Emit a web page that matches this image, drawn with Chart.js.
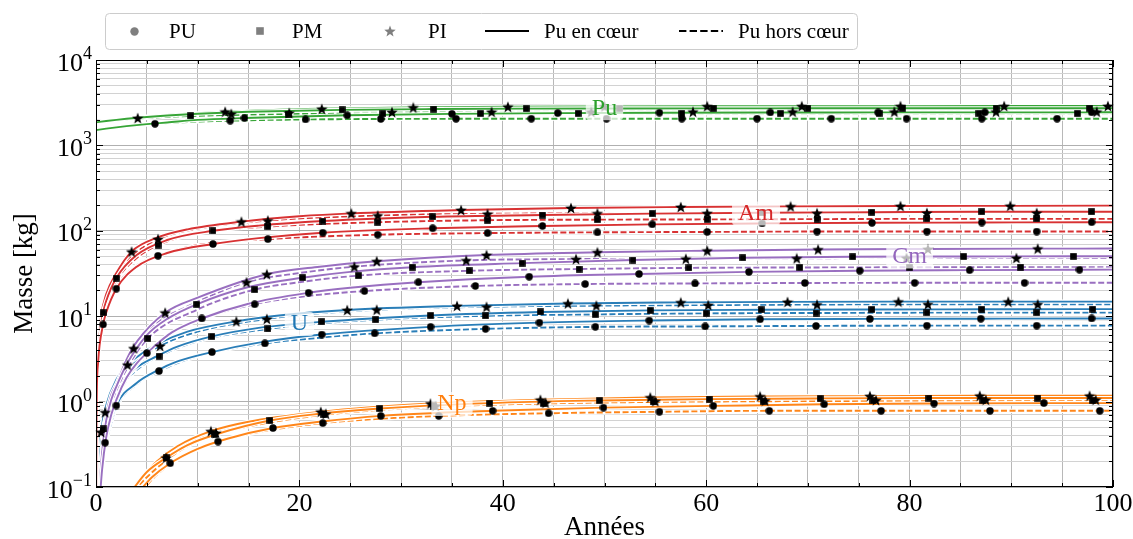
<!DOCTYPE html>
<html><head><meta charset="utf-8">
<script src="https://cdn.jsdelivr.net/npm/chart.js@4.4.1/dist/chart.umd.min.js"></script>
<style>html,body{margin:0;padding:0;background:#fff;overflow:hidden}canvas{display:block}</style>
</head><body>
<canvas id="c" width="1133" height="539"></canvas>
<script>
// ---------------- DATA (years / mass in kg) ----------------
const ELEMENT_NAMES = ['Pu','Am','Cm','U','Np'];
const LEGEND_LABELS = ['PU','PM','PI','Pu en cœur','Pu hors cœur'];
const X_TICK_LABELS = [0,20,40,60,80,100];
const Y_DECADES = [-1,0,1,2,3,4];
const LABEL_TEXT = ['Pu','Am','Cm','U','Np'];
const LABEL_YEAR = [50,64.9,80,20,35];
const LABEL_MASS = [2800,164,51.4,8.3,0.96];

// Pu
const PU_PU_CORE_X = [0,1,2,3,5,7,10,14.6,24.7,35,45.4,55.4,66.3,76.9,87.4,97.9,100];
const PU_PU_CORE_Y = [1510,1570,1627,1680,1774,1855,1988,2090,2250,2340,2390,2415,2428,2434,2437,2439,2440];
const PU_PU_CORE_MK = [14.6,24.7,35,45.4,55.4,66.3,76.9,87.4,97.9];
const PU_PU_OUT_X = [0,1,2,3,5.8,9,13.2,20.6,28,35.4,42.8,50.2,57.6,65,72.3,79.7,87.1,94.5,100];
const PU_PU_OUT_Y = [1510,1574,1630,1680,1791,1878,1950,2014,2039,2048,2052,2054,2055,2055,2055,2055,2055,2055,2055];
const PU_PU_OUT_MK = [5.8,13.2,20.6,28,35.4,42.8,50.2,57.6,65,72.3,79.7,87.1,94.5];
const PU_PM_CORE_X = [0,1,2,3,5,7,10,15,24.2,33.2,42.3,51.5,60.7,70,79.3,88.5,97.7,100];
const PU_PM_CORE_Y = [1860,1929,1992,2050,2153,2240,2346,2473,2606,2666,2695,2708,2715,2718,2719,2720,2720,2720];
const PU_PM_CORE_MK = [24.2,33.2,42.3,51.5,60.7,70,79.3,88.5,97.7];
const PU_PM_OUT_X = [0,1,2,3,5,9.3,18.9,28.2,37.8,47.4,57.6,67.3,77,86.8,96.5,100];
const PU_PM_OUT_Y = [1860,1920,1973,2020,2097,2210,2322,2355,2365,2368,2369,2370,2370,2370,2370,2370];
const PU_PM_OUT_MK = [9.3,18.9,28.2,37.8,47.4,57.6,67.3,77,86.8,96.5];
const PU_PI_CORE_X = [0,1,2,3,5,7,12.7,22.2,31.2,40.5,50,60.1,69.4,79.1,89.3,99.5,100];
const PU_PI_CORE_Y = [1870,1940,2006,2067,2176,2271,2478,2681,2780,2834,2861,2876,2883,2886,2888,2889,2890];
const PU_PI_CORE_MK = [12.7,22.2,31.2,40.5,50,60.1,69.4,79.1,89.3,99.5];
const PU_PI_OUT_X = [0,1,2,3,4.1,8,13.3,19,29.1,38.9,48.7,58.7,68.5,78.5,88.5,98.4,100];
const PU_PI_OUT_Y = [1870,1934,1991,2043,2093,2229,2341,2406,2456,2472,2477,2479,2480,2480,2480,2480,2480];
const PU_PI_OUT_MK = [4.1,13.3,19,29.1,38.9,48.7,58.7,68.5,78.5,88.5,98.4];

// Am
const AM_PU_CORE_X = [0.01,0.05,0.2,0.7,1,2,4,7,11.5,16,22.3,33.1,43.9,54.7,65.5,76.3,87.1,97.9,100];
const AM_PU_CORE_Y = [0.06,0.7,2.8,8,11,21,38,55,70,82,95,107,114,119,122,124,125,126,126];
const AM_PU_CORE_MK = [0.7,2,11.5,22.3,33.1,43.9,54.7,65.5,76.3,87.1,97.9];
const AM_PU_OUT_X = [0.01,0.05,0.2,0.5,1,2,4,6.1,10,16.9,27.7,38.5,49.3,60.1,70.9,81.7,92.5,100];
const AM_PU_OUT_Y = [0.06,0.7,2.8,6.5,11.5,22,39,51,68,80,90,94,96,97,98,98,98,98];
const AM_PU_OUT_MK = [6.1,16.9,27.7,38.5,49.3,60.1,70.9,81.7,92.5];
const AM_PM_CORE_X = [0.01,0.05,0.2,0.7,1,2,4,7,11.5,16,22.3,33.1,43.9,54.7,65.5,76.3,87.1,97.9,100];
const AM_PM_CORE_Y = [0.07,0.9,3.7,11,15,28,52,78,100,115,130,146,153,159,163,165,167,167,167];
const AM_PM_CORE_MK = [0.7,2,11.5,22.3,33.1,43.9,54.7,65.5,76.3,87.1,97.9];
const AM_PM_OUT_X = [0.01,0.05,0.2,0.5,1,2,4,6.1,10,16.9,27.7,38.5,49.3,60.1,70.9,81.7,92.5,100];
const AM_PM_OUT_Y = [0.07,0.85,3.5,8,14,26,48,68,94,112,126,133,135,136,137,138,138,138];
const AM_PM_OUT_MK = [6.1,16.9,27.7,38.5,49.3,60.1,70.9,81.7,92.5];
const AM_PI_CORE_X = [0.01,0.05,0.2,0.5,1,2,3.5,6,9,14.3,20,25.1,35.9,46.7,57.5,68.3,79.1,89.9,100];
const AM_PI_CORE_Y = [0.08,1.1,4.3,10,18,32,57,83,104,128,148,160,175,185,190,193,195,196,197];
const AM_PI_CORE_MK = [3.5,14.3,25.1,35.9,46.7,57.5,68.3,79.1,89.9];
const AM_PI_OUT_X = [0.01,0.05,0.2,0.5,1,2,4,6.1,10,16.9,27.7,38.5,49.3,60.1,70.9,81.7,92.5,100];
const AM_PI_OUT_Y = [0.08,1.0,4,9.5,17,30,56,80,106,132,151,158,160,161,161,162,162,162];
const AM_PI_OUT_MK = [6.1,16.9,27.7,38.5,49.3,60.1,70.9,81.7,92.5];

// Cm
const CM_PU_CORE_X = [0.4,0.6,1,1.5,2,3,4,5.8,7.5,10.4,15,20.9,25,31.7,42.6,53.4,64.2,75.1,85.9,96.7,100];
const CM_PU_CORE_Y = [0.08,0.16,0.38,0.7,1.05,1.9,2.8,4.5,6.5,9.4,14,18.8,21.5,25,29,31.2,33,34.1,34.6,35,35.1];
const CM_PU_CORE_MK = [10.4,20.9,31.7,42.6,53.4,64.2,75.1,85.9,96.7];
const CM_PU_OUT_X = [0.4,0.6,1,1.5,2,3,5,7,10,15.6,20,26.4,37.3,48.1,58.9,69.7,80.5,91.3,100];
const CM_PU_OUT_Y = [0.08,0.15,0.36,0.66,1,1.8,3.7,5.9,9,13.8,16.8,19.7,22.6,23.8,24.2,24.5,24.6,24.6,24.6];
const CM_PU_OUT_MK = [5,15.6,26.4,37.3,48.1,58.9,69.7,80.5,91.3];
const CM_PM_CORE_X = [0.3,0.5,0.7,1,1.5,2,3,5,7,9.9,15,20.3,25,31.1,41.9,52.8,63.6,74.4,85.3,96.1,100];
const CM_PM_CORE_Y = [0.075,0.18,0.33,0.6,1.05,1.5,2.7,6,9.3,13.8,22,28.2,33,37.5,41.8,45.5,48.3,49.6,50,50.3,50.4];
const CM_PM_CORE_MK = [9.9,20.3,31.1,41.9,52.8,63.6,74.4,85.3,96.1];
const CM_PM_OUT_X = [0.3,0.5,0.7,1,1.5,2,3,5.1,10,15.6,20,25.8,36.7,47.5,58.3,69.2,80,90.9,100];
const CM_PM_OUT_Y = [0.07,0.16,0.3,0.55,0.95,1.35,2.4,5.5,12,20.5,25,29.9,34,35.7,36.8,37.2,37.4,37.5,37.5];
const CM_PM_OUT_MK = [5.1,15.6,25.8,36.7,47.5,58.3,69.2,80,90.9];
const CM_PI_CORE_X = [0.3,0.5,0.7,1,1.5,2,3,4,6.8,10,16.8,22,27.6,38.4,49.3,60.1,71,81.8,92.6,100];
const CM_PI_CORE_Y = [0.08,0.2,0.38,0.7,1.2,1.6,3.1,5,11,16.5,31,38,44,52,56,58.5,60.5,61.3,61.8,62];
const CM_PI_CORE_MK = [6.8,16.8,27.6,38.4,49.3,60.1,71,81.8,92.6];
const CM_PI_OUT_X = [0.3,0.5,0.7,1,1.5,2,3.7,6,9,14.8,20,25.4,36.4,47.2,58,68.9,79.7,90.5,100];
const CM_PI_OUT_Y = [0.075,0.19,0.35,0.65,1.1,1.5,4.2,8.3,13,25,32,38,45,46.6,47,47.6,48,48,48];
const CM_PI_OUT_MK = [3.7,14.8,25.4,36.4,47.2,58,68.9,79.7,90.5];

// U
const U_PU_CORE_X = [0.25,0.5,0.9,2,4,6,8,11.4,16,22.2,32.9,43.6,54.4,65.3,76.1,87,97.9,100];
const U_PU_CORE_Y = [0.08,0.17,0.33,0.9,1.65,2.3,2.95,3.8,4.9,6.1,7.5,8.4,8.9,9.2,9.3,9.35,9.4,9.4];
const U_PU_CORE_MK = [0.9,2,11.4,22.2,32.9,43.6,54.4,65.3,76.1,87,97.9];
const U_PU_OUT_X = [0.25,0.5,1,2,4,6.2,10,16.6,22,27.4,38.3,49.1,59.9,70.8,81.7,92.5,100];
const U_PU_OUT_Y = [0.08,0.16,0.33,0.85,1.6,2.28,3.4,4.8,5.6,6.3,7.1,7.5,7.6,7.7,7.75,7.75,7.75];
const U_PU_OUT_MK = [6.2,16.6,27.4,38.3,49.1,59.9,70.8,81.7,92.5];
const U_PM_CORE_X = [0.12,0.3,0.7,1,2,4,6,8,11.4,16,22.2,32.9,43.7,54.5,65.4,76.3,87.1,98,100];
const U_PM_CORE_Y = [0.06,0.17,0.48,0.7,1.35,2.5,3.4,4.4,5.8,7.3,8.6,10.2,11.2,11.7,11.9,12,12.05,12.1,12.1];
const U_PM_CORE_MK = [0.7,11.4,22.2,32.9,43.7,54.5,65.4,76.3,87.1,98];
const U_PM_OUT_X = [0.12,0.3,0.5,1,2,4,6.2,10,16.9,22,27.5,38.3,49.1,60,70.8,81.7,92.5,100];
const U_PM_OUT_Y = [0.06,0.16,0.3,0.66,1.25,2.35,3.4,5.1,7.1,8.2,9.1,10.1,10.5,10.8,10.9,11,11,11];
const U_PM_OUT_MK = [6.2,16.9,27.5,38.3,49.1,60,70.8,81.7,92.5];
const U_PI_CORE_X = [0.12,0.3,0.5,1,2,3.1,4,6,9,13.8,18,24.7,35.5,46.4,57.5,68,78.9,89.7,100];
const U_PI_CORE_Y = [0.08,0.22,0.44,0.9,1.8,2.7,3.3,4.7,6.6,8.7,10.2,11.8,13.2,14.1,14.5,14.7,14.8,14.8,14.8];
const U_PI_CORE_MK = [0.5,3.1,13.8,24.7,35.5,46.4,57.5,68,78.9,89.7];
const U_PI_OUT_X = [0.12,0.3,0.5,0.9,2,4,6.3,10,16.8,22,27.6,38.4,49.2,60.2,70.9,81.8,92.6,100];
const U_PI_OUT_Y = [0.07,0.2,0.4,0.75,1.65,3.0,4.5,6.6,9.3,10.8,11.9,12.9,13.3,13.5,13.7,13.8,13.8,13.8];
const U_PI_OUT_MK = [0.9,6.3,16.8,27.6,38.4,49.2,60.2,70.9,81.8,92.6];

// Np
const NP_PU_CORE_X = [4.3,5.5,7.3,10,13,17.4,22,28,39,49.9,60.7,71.6,82.4,93.2,100];
const NP_PU_CORE_Y = [0.09,0.13,0.19,0.28,0.37,0.49,0.58,0.68,0.78,0.85,0.89,0.93,0.95,0.96,0.96];
const NP_PU_CORE_MK = [7.3,17.4,28,39,49.9,60.7,71.6,82.4,93.2];
const NP_PU_OUT_X = [4.5,6,8,12,16,22.3,28,33.7,44.5,55.4,66.2,77.2,87.9,98.7,100];
const NP_PU_OUT_Y = [0.09,0.14,0.21,0.34,0.44,0.56,0.63,0.68,0.73,0.76,0.78,0.78,0.78,0.78,0.78];
const NP_PU_OUT_MK = [12,22.3,33.7,44.5,55.4,66.2,77.2,87.9,98.7];
const NP_PM_CORE_X = [3.5,5,6.9,9,12,17.1,22,27.9,38.7,49.5,60.3,71.2,81.9,92.6,100];
const NP_PM_CORE_Y = [0.09,0.15,0.22,0.31,0.42,0.6,0.72,0.83,0.96,1.03,1.07,1.09,1.1,1.1,1.1];
const NP_PM_CORE_MK = [6.9,17.1,27.9,38.7,49.5,60.3,71.2,81.9,92.6];
const NP_PM_OUT_X = [3.7,5,7,9,11.7,16,22.4,28,33.2,44,54.8,65.6,76.4,87.2,98,100];
const NP_PM_OUT_Y = [0.09,0.13,0.21,0.3,0.41,0.54,0.7,0.8,0.87,0.95,0.99,1.01,1.02,1.03,1.03,1.03];
const NP_PM_OUT_MK = [11.7,22.4,33.2,44,54.8,65.6,76.4,87.2,98];
const NP_PI_CORE_X = [3.4,4.5,6,8,11.3,15,22.1,27,32.9,43.7,54.5,65.3,76.1,86.9,97.7,100];
const NP_PI_CORE_Y = [0.09,0.13,0.2,0.3,0.45,0.58,0.76,0.86,0.95,1.05,1.12,1.15,1.16,1.17,1.17,1.17];
const NP_PI_CORE_MK = [11.3,22.1,32.9,43.7,54.5,65.3,76.1,86.9,97.7];
const NP_PI_OUT_X = [3.6,5,6.9,9,11.8,16,22.6,28,33.4,44.2,55,65.8,76.7,87.5,98.3,100];
const NP_PI_OUT_Y = [0.09,0.14,0.22,0.32,0.43,0.56,0.72,0.82,0.89,0.97,1.01,1.03,1.04,1.05,1.05,1.05];
const NP_PI_OUT_MK = [6.9,11.8,22.6,33.4,44.2,55,65.8,76.7,87.5,98.3];

// ---------------- TABLE for the library ----------------
const LINES = [
  ['Pu','PU',true,PU_PU_CORE_X,PU_PU_CORE_Y,PU_PU_CORE_MK],['Pu','PU',false,PU_PU_OUT_X,PU_PU_OUT_Y,PU_PU_OUT_MK],
  ['Pu','PM',true,PU_PM_CORE_X,PU_PM_CORE_Y,PU_PM_CORE_MK],['Pu','PM',false,PU_PM_OUT_X,PU_PM_OUT_Y,PU_PM_OUT_MK],
  ['Pu','PI',true,PU_PI_CORE_X,PU_PI_CORE_Y,PU_PI_CORE_MK],['Pu','PI',false,PU_PI_OUT_X,PU_PI_OUT_Y,PU_PI_OUT_MK],
  ['Am','PU',true,AM_PU_CORE_X,AM_PU_CORE_Y,AM_PU_CORE_MK],['Am','PU',false,AM_PU_OUT_X,AM_PU_OUT_Y,AM_PU_OUT_MK],
  ['Am','PM',true,AM_PM_CORE_X,AM_PM_CORE_Y,AM_PM_CORE_MK],['Am','PM',false,AM_PM_OUT_X,AM_PM_OUT_Y,AM_PM_OUT_MK],
  ['Am','PI',true,AM_PI_CORE_X,AM_PI_CORE_Y,AM_PI_CORE_MK],['Am','PI',false,AM_PI_OUT_X,AM_PI_OUT_Y,AM_PI_OUT_MK],
  ['Cm','PU',true,CM_PU_CORE_X,CM_PU_CORE_Y,CM_PU_CORE_MK],['Cm','PU',false,CM_PU_OUT_X,CM_PU_OUT_Y,CM_PU_OUT_MK],
  ['Cm','PM',true,CM_PM_CORE_X,CM_PM_CORE_Y,CM_PM_CORE_MK],['Cm','PM',false,CM_PM_OUT_X,CM_PM_OUT_Y,CM_PM_OUT_MK],
  ['Cm','PI',true,CM_PI_CORE_X,CM_PI_CORE_Y,CM_PI_CORE_MK],['Cm','PI',false,CM_PI_OUT_X,CM_PI_OUT_Y,CM_PI_OUT_MK],
  ['U','PU',true,U_PU_CORE_X,U_PU_CORE_Y,U_PU_CORE_MK],['U','PU',false,U_PU_OUT_X,U_PU_OUT_Y,U_PU_OUT_MK],
  ['U','PM',true,U_PM_CORE_X,U_PM_CORE_Y,U_PM_CORE_MK],['U','PM',false,U_PM_OUT_X,U_PM_OUT_Y,U_PM_OUT_MK],
  ['U','PI',true,U_PI_CORE_X,U_PI_CORE_Y,U_PI_CORE_MK],['U','PI',false,U_PI_OUT_X,U_PI_OUT_Y,U_PI_OUT_MK],
  ['Np','PU',true,NP_PU_CORE_X,NP_PU_CORE_Y,NP_PU_CORE_MK],['Np','PU',false,NP_PU_OUT_X,NP_PU_OUT_Y,NP_PU_OUT_MK],
  ['Np','PM',true,NP_PM_CORE_X,NP_PM_CORE_Y,NP_PM_CORE_MK],['Np','PM',false,NP_PM_OUT_X,NP_PM_OUT_Y,NP_PM_OUT_MK],
  ['Np','PI',true,NP_PI_CORE_X,NP_PI_CORE_Y,NP_PI_CORE_MK],['Np','PI',false,NP_PI_OUT_X,NP_PI_OUT_Y,NP_PI_OUT_MK]
];

// ---------------- STYLE ----------------
const ELEMENT_COLORS = {Pu:'#2ca02c', Am:'#d62728', Cm:'#9467bd', U:'#1f77b4', Np:'#ff7f0e'};
const SCEN_SHAPE = {PU:'circle', PM:'square', PI:'star'};
const SERIF = "'Liberation Serif','DejaVu Serif',serif";

function rgba(hex, a){
  const n = parseInt(hex.slice(1),16);
  return `rgba(${(n>>16)&255},${(n>>8)&255},${n&255},${a})`;
}
function makeMarker(shape, size, color){
  const c = document.createElement('canvas');
  c.width = size; c.height = size;
  const g = c.getContext('2d');
  g.fillStyle = color;
  const m = size/2;
  if (shape === 'circle'){ g.beginPath(); g.arc(m,m,m-0.3,0,2*Math.PI); g.fill(); }
  else if (shape === 'square'){ g.fillRect(0.2,0.2,size-0.4,size-0.4); }
  else {
    const R = m, r = R*0.42;
    g.beginPath();
    for (let k=0;k<10;k++){
      const rr = k%2===0 ? R : r;
      const a = -Math.PI/2 + k*Math.PI/5;
      const px = m + rr*Math.cos(a), py = m + R*0.1 + rr*Math.sin(a);
      if (k===0) g.moveTo(px,py); else g.lineTo(px,py);
    }
    g.closePath(); g.fill();
  }
  return c;
}
const MARKERS = {circle: makeMarker('circle',8,'#000'), square: makeMarker('square',7,'#000'), star: makeMarker('star',12,'#000')};
const LEG_MARKERS = {circle: makeMarker('circle',9,'#7f7f7f'), square: makeMarker('square',8,'#7f7f7f'), star: makeMarker('star',12,'#7f7f7f')};

// ticks / grid positions
const X_GRID = [0,5,10,15,20,25,30,35,40,45,50,55,60,65,70,75,80,85,90,95,100];
const Y_GRID = [];
for (const e of Y_DECADES){
  if (e === 4){ Y_GRID.push(1e4); break; }
  for (let s=1;s<=9;s++) Y_GRID.push(+(s*Math.pow(10,e)).toPrecision(6));
}
function isDecade(v){ const l = Math.log10(v); return Math.abs(l - Math.round(l)) < 1e-6; }

// ---------------- DATASETS ----------------
const markerSets = [], lineSets = [];
LINES.forEach(L => {
  const [el, sc, core, X, Y, MK] = L;
  const data = X.map((x,i) => ({x:x, y:Y[i]}));
  const color = ELEMENT_COLORS[el];
  markerSets.push({
    data, showLine:false, pointStyle: MARKERS[SCEN_SHAPE[sc]],
    pointRadius: c => (c.raw && MK.includes(c.raw.x)) ? 3 : 0,
    pointHoverRadius: 0, clip:false
  });
  lineSets.push({
    data, borderColor: rgba(color,0.95), borderWidth:1.9, borderDash: core ? [] : [6,2.6],
    pointRadius:0, pointHoverRadius:0, cubicInterpolationMode:'monotone', clip:0, fill:false
  });
  lineSets.push({
    data, borderColor:'#ffffff', borderWidth:4.2,
    pointRadius:0, pointHoverRadius:0, cubicInterpolationMode:'monotone', clip:0, fill:false
  });
});

// ---------------- DECORATION PLUGIN ----------------
function roundRect(ctx,x,y,w,h,r){
  ctx.beginPath();
  ctx.moveTo(x+r,y); ctx.lineTo(x+w-r,y); ctx.quadraticCurveTo(x+w,y,x+w,y+r);
  ctx.lineTo(x+w,y+h-r); ctx.quadraticCurveTo(x+w,y+h,x+w-r,y+h);
  ctx.lineTo(x+r,y+h); ctx.quadraticCurveTo(x,y+h,x,y+h-r);
  ctx.lineTo(x,y+r); ctx.quadraticCurveTo(x,y,x+r,y); ctx.closePath();
}
const deco = {
  id:'deco',
  afterDatasetsDraw(chart){
    const ctx = chart.ctx, xs = chart.scales.x, ys = chart.scales.y;
    ctx.save();
    ctx.font = `24px ${SERIF}`;
    ctx.textAlign = 'center'; ctx.textBaseline = 'middle';
    LABEL_TEXT.forEach((t,i) => {
      const px = xs.getPixelForValue(LABEL_YEAR[i]), py = ys.getPixelForValue(LABEL_MASS[i]);
      const w = ctx.measureText(t).width + 12, h = 24;
      ctx.fillStyle = 'rgba(255,255,255,0.72)';
      roundRect(ctx, px - w/2, py - h/2 + 1, w, h, 4); ctx.fill();
      ctx.fillStyle = ELEMENT_COLORS[ELEMENT_NAMES[i]];
      ctx.fillText(t, px, py + 1);
    });
    ctx.restore();
  },
  afterDraw(chart){
    const ctx = chart.ctx, xs = chart.scales.x, ys = chart.scales.y;
    const {left,right,top,bottom} = chart.chartArea;
    ctx.save();
    // frame
    ctx.strokeStyle = '#000'; ctx.lineWidth = 1;
    ctx.strokeRect(left+0.5, top+0.5, right-left-1, bottom-top-1);
    // ticks (inward)
    ctx.beginPath();
    Y_GRID.forEach(v => {
      const py = Math.round(ys.getPixelForValue(v)) + 0.5;
      const len = isDecade(v) ? 7 : 4;
      ctx.moveTo(left, py); ctx.lineTo(left+len, py);
      ctx.moveTo(right, py); ctx.lineTo(right-len, py);
    });
    X_GRID.forEach(v => {
      const px = Math.round(xs.getPixelForValue(v)) + 0.5;
      const len = (v % 20 === 0) ? 7 : 4;
      ctx.moveTo(px, bottom); ctx.lineTo(px, bottom-len);
      ctx.moveTo(px, top); ctx.lineTo(px, top+len);
    });
    ctx.stroke();
    // y tick labels 10^e
    ctx.fillStyle = '#000';
    ctx.textBaseline = 'alphabetic'; ctx.textAlign = 'right';
    Y_DECADES.forEach(e => {
      const py = ys.getPixelForValue(Math.pow(10,e));
      const ex = (e < 0 ? '\u2212' : '') + Math.abs(e);
      ctx.font = `18px ${SERIF}`;
      const ew = ctx.measureText(ex).width;
      ctx.fillText(ex, 92, py - 1);
      ctx.font = `26px ${SERIF}`;
      ctx.fillText('10', 92 - ew, py + 10.5);
    });
    // x tick labels
    ctx.textAlign = 'center'; ctx.font = `26px ${SERIF}`;
    X_TICK_LABELS.forEach(v => ctx.fillText(String(v), xs.getPixelForValue(v), 511));
    // axis titles
    ctx.font = `27px ${SERIF}`;
    ctx.fillText('Années', (left+right)/2, 535);
    ctx.save();
    ctx.translate(32, (top+bottom)/2); ctx.rotate(-Math.PI/2);
    ctx.fillText('Masse [kg]', 0, 0);
    ctx.restore();
    // legend
    ctx.fillStyle = 'rgba(255,255,255,0.85)';
    roundRect(ctx, 105.5, 13.5, 752, 36, 4); ctx.fill();
    ctx.strokeStyle = '#cccccc'; ctx.lineWidth = 1; ctx.stroke();
    const ly = 31;
    const shapes = ['circle','square','star'];
    const mx = [134, 260, 390];
    shapes.forEach((s,i) => { const im = LEG_MARKERS[s]; ctx.drawImage(im, Math.round(mx[i]-im.width/2), Math.round(ly-im.height/2)); });
    ctx.strokeStyle = '#000'; ctx.lineWidth = 2.2;
    ctx.beginPath(); ctx.moveTo(485, ly); ctx.lineTo(529, ly); ctx.stroke();
    ctx.setLineDash([7.4,3.2]);
    ctx.beginPath(); ctx.moveTo(679, ly); ctx.lineTo(723, ly); ctx.stroke();
    ctx.setLineDash([]);
    ctx.fillStyle = '#000'; ctx.textAlign = 'left'; ctx.font = `21px ${SERIF}`;
    const tx = [169, 292, 428, 544, 738];
    LEGEND_LABELS.forEach((t,i) => ctx.fillText(t, tx[i], 38));
    ctx.restore();
  }
};

new Chart(document.getElementById('c'), {
  type:'line',
  data:{ datasets: markerSets.concat(lineSets) },
  options:{
    responsive:false, animation:false, devicePixelRatio:1, events:[],
    layout:{ padding:{ top:60, right:20, left:0, bottom:0 } },
    plugins:{ legend:{display:false}, tooltip:{enabled:false} },
    scales:{
      x:{ type:'linear', min:0, max:100,
          ticks:{ display:false, stepSize:5 },
          grid:{ color:'#b8b8b8', lineWidth:1, drawTicks:false },
          border:{ display:false },
          afterBuildTicks: s => { s.ticks = X_GRID.map(v => ({value:v})); },
          afterFit: s => { s.height = 52; } },
      y:{ type:'logarithmic', min:0.1, max:10000,
          ticks:{ display:false, autoSkip:false },
          grid:{ color: c => (c.tick && isDecade(c.tick.value)) ? '#b0b0b0' : '#d2d2d2', lineWidth:1, drawTicks:false },
          border:{ display:false },
          afterBuildTicks: s => { s.ticks = Y_GRID.map(v => ({value:v})); },
          afterFit: s => { s.height; s.width = 96; } }
    }
  },
  plugins:[deco]
});
</script>
</body></html>
